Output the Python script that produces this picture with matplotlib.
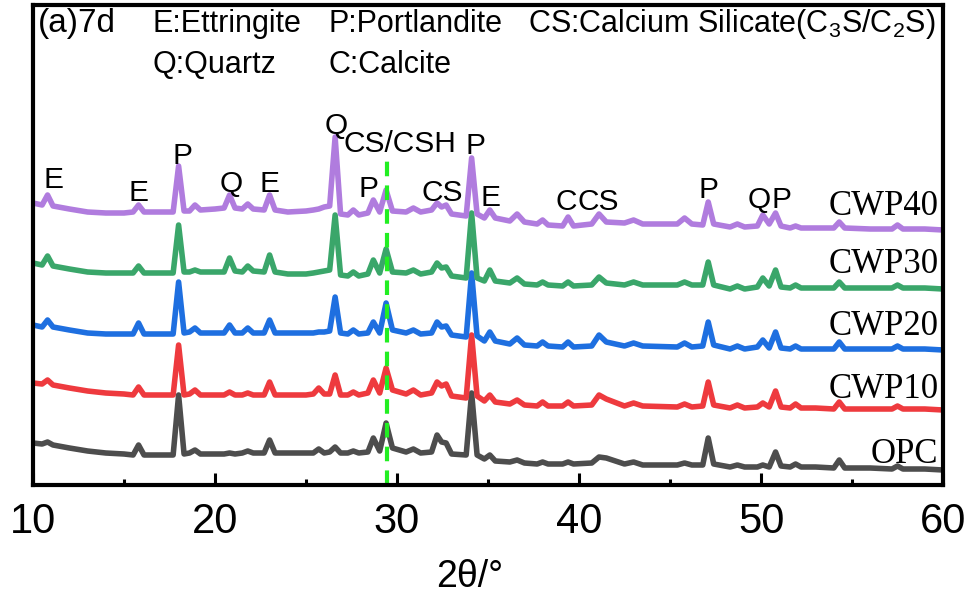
import numpy as np
import matplotlib.pyplot as plt
from matplotlib.ticker import MultipleLocator

plt.rcParams['font.family'] = ['Liberation Sans', 'DejaVu Sans']
plt.rcParams['mathtext.fontset'] = 'custom'
plt.rcParams['mathtext.rm'] = 'Liberation Sans'

# 2theta positions (deg)
two_theta = [10.0, 10.5, 10.8, 11.1, 12.0, 13.0, 14.0, 15.0, 15.5, 15.8,
             16.1, 17.0, 17.7, 18.0, 18.3, 18.6, 18.9, 19.2, 20.0, 20.5,
             20.8, 21.1, 21.5, 21.8, 22.1, 22.7, 23.0, 23.3, 24.0, 25.0,
             25.4, 25.7, 26.0, 26.3, 26.6, 26.9, 27.3, 27.6, 27.9, 28.4,
             28.7, 29.05, 29.4, 29.75, 30.5, 30.9, 31.3, 31.9, 32.2, 32.45,
             32.7, 33.0, 33.8, 34.1, 34.4, 34.8, 35.1, 35.4, 36.2, 36.6,
             37.0, 37.7, 38.0, 38.3, 39.1, 39.4, 39.7, 40.7, 41.1, 41.5,
             42.5, 43.0, 43.5, 45.4, 45.8, 46.2, 46.8, 47.1, 47.4, 48.3,
             48.7, 49.1, 49.8, 50.1, 50.45, 50.8, 51.1, 51.6, 51.9, 52.2,
             53.0, 54.0, 54.3, 54.6, 56.0, 57.2, 57.5, 57.8, 59.0, 60.0]

# relative intensity (a.u.)
opc = [27, 26, 28, 25, 22, 19, 17, 16, 15, 25,
       15, 15, 15, 75, 16, 17, 20, 16, 16, 16,
       17, 16, 17, 19, 17, 17, 30, 17, 17, 17,
       17, 21, 17, 18, 23, 17, 17, 19, 17, 18,
       32, 19, 47, 22, 18, 21, 17, 18, 35, 28,
       27, 16, 15, 77, 15, 11, 15, 9, 8, 10,
       7, 6, 8, 6, 6, 8, 6, 7, 13, 12,
       6, 8, 5, 5, 7, 5, 5, 32, 6, 3,
       5, 3, 3, 5, 3, 18, 4, 3, 6, 3,
       3, 2, 10, 2, 2, 1, 4, 1, 1, 0]
cwp10 = [27, 26, 30, 25, 22, 19, 17, 16, 15, 23,
         15, 15, 15, 65, 15, 16, 20, 15, 15, 15,
         18, 15, 15, 17, 15, 15, 28, 15, 15, 15,
         16, 22, 16, 16, 35, 15, 15, 18, 15, 17,
         30, 17, 42, 20, 16, 20, 15, 17, 28, 24,
         26, 14, 12, 75, 14, 9, 15, 8, 6, 10,
         5, 4, 8, 4, 4, 8, 4, 5, 15, 11,
         4, 7, 4, 3, 6, 3, 4, 28, 5, 2,
         5, 2, 3, 7, 3, 19, 3, 2, 6, 2,
         2, 1, 8, 1, 1, 1, 4, 1, 1, 0]
cwp20 = [25, 23, 30, 23, 20, 17, 16, 16, 16, 27,
         16, 16, 16, 68, 17, 18, 22, 17, 17, 17,
         25, 17, 17, 22, 17, 17, 30, 17, 17, 17,
         17, 18, 18, 19, 53, 17, 16, 20, 16, 17,
         28, 17, 47, 20, 17, 20, 16, 17, 28, 23,
         24, 15, 13, 77, 14, 9, 18, 9, 6, 12,
         5, 4, 8, 4, 3, 8, 3, 4, 15, 8,
         4, 7, 4, 3, 7, 3, 4, 28, 5, 1,
         4, 1, 3, 10, 2, 18, 2, 1, 4, 1,
         1, 1, 8, 1, 1, 1, 4, 1, 1, 0]
cwp30 = [27, 25, 34, 24, 21, 18, 17, 17, 17, 24,
         17, 17, 17, 65, 18, 18, 20, 18, 18, 18,
         32, 19, 18, 24, 19, 18, 35, 18, 16, 16,
         17, 18, 19, 20, 75, 15, 14, 18, 14, 16,
         30, 17, 41, 18, 17, 20, 16, 18, 27, 22,
         23, 14, 12, 77, 12, 9, 20, 9, 7, 12,
         6, 5, 8, 5, 4, 8, 4, 5, 13, 7,
         5, 8, 5, 5, 8, 5, 5, 28, 5, 1,
         4, 1, 3, 12, 4, 20, 3, 2, 5, 2,
         2, 2, 8, 2, 2, 2, 5, 2, 2, 1]
cwp40 = [27, 25, 35, 24, 21, 18, 17, 17, 18, 25,
         18, 18, 18, 64, 19, 19, 25, 20, 21, 22,
         35, 22, 21, 26, 21, 20, 35, 20, 18, 19,
         20, 21, 23, 24, 93, 16, 15, 20, 15, 17,
         30, 18, 40, 19, 18, 22, 18, 20, 27, 23,
         25, 16, 14, 72, 16, 12, 20, 12, 9, 16,
         8, 6, 10, 5, 4, 13, 4, 6, 16, 8,
         7, 10, 6, 6, 12, 6, 5, 28, 6, 3,
         6, 3, 4, 15, 6, 17, 4, 2, 4, 2,
         2, 2, 8, 2, 1, 1, 5, 1, 1, 0]

names = ['OPC', 'CWP10', 'CWP20', 'CWP30', 'CWP40']
patterns = [opc, cwp10, cwp20, cwp30, cwp40]
offsets = [15, 75, 135, 195, 255]
colors = ['#4D4D4D', '#EE3A3E', '#1E6FE0', '#3AA66A', '#B07CDE']
csh_pos = 29.45

# phase labels: text, 2theta, height
peak_labels = [('E', 11.15, 297), ('E', 15.77, 284), ('P', 18.19, 321),
               ('Q', 20.88, 293), ('E', 22.97, 293), ('Q', 26.65, 351),
               ('CS/CSH', 30.16, 333), ('P', 34.29, 331), ('P', 28.41, 288),
               ('CS', 32.47, 284), ('E', 35.16, 279), ('C', 39.29, 275),
               ('CS', 41.04, 275), ('P', 47.14, 287), ('Q', 49.89, 277),
               ('P', 51.15, 277)]
name_y = [22, 87, 150, 212, 270]

fig = plt.figure(figsize=(9.74, 6.03), dpi=100)
ax = fig.add_axes([33/974, 118/603, 910/974, 480/603])

for pat, off, col in zip(patterns, offsets, colors):
    y = np.array(pat) + off
    ax.plot(two_theta, y, color=col, lw=4, solid_joinstyle='round',
            solid_capstyle='round')

ax.vlines(csh_pos, 0, 330, colors='#22EE22', lw=3, linestyles=(0, (3.5, 2.2)))

for txt, x, y in peak_labels:
    ax.text(x, y, txt, fontsize=21.5, ha='center', va='baseline')

for nm, y in zip(names, name_y):
    ax.text(59.75, y, nm, fontsize=25, family='Liberation Serif',
            ha='right', va='baseline')

ax.text(10.27, 453, '(a)7d', fontsize=24, va='baseline')
ax.text(16.54, 453, 'E:Ettringite', fontsize=22, va='baseline')
ax.text(26.21, 453, 'P:Portlandite', fontsize=22, va='baseline')
ax.text(37.2, 453, 'CS:Calcium Silicate(C$_{\\mathregular{3}}$S/C$_{\\mathregular{2}}$S)',
        fontsize=22, va='baseline')
ax.text(16.54, 412, 'Q:Quartz', fontsize=22, va='baseline')
ax.text(26.21, 412, 'C:Calcite', fontsize=22, va='baseline')

ax.set_xlim(10, 60)
ax.set_ylim(0, 480)
ax.set_yticks([])
ax.xaxis.set_major_locator(MultipleLocator(10))
ax.xaxis.set_minor_locator(MultipleLocator(5))
ax.tick_params(axis='x', which='major', direction='in', length=9, width=2.2,
               labelsize=30, pad=12)
ax.tick_params(axis='x', which='minor', direction='in', length=4.5, width=2.2)
for sp in ax.spines.values():
    sp.set_linewidth(3)

fig.text(470/974, 1 - 577/603, '2θ/°', fontsize=27, ha='center', va='center')

plt.savefig('out.png', dpi=100)
